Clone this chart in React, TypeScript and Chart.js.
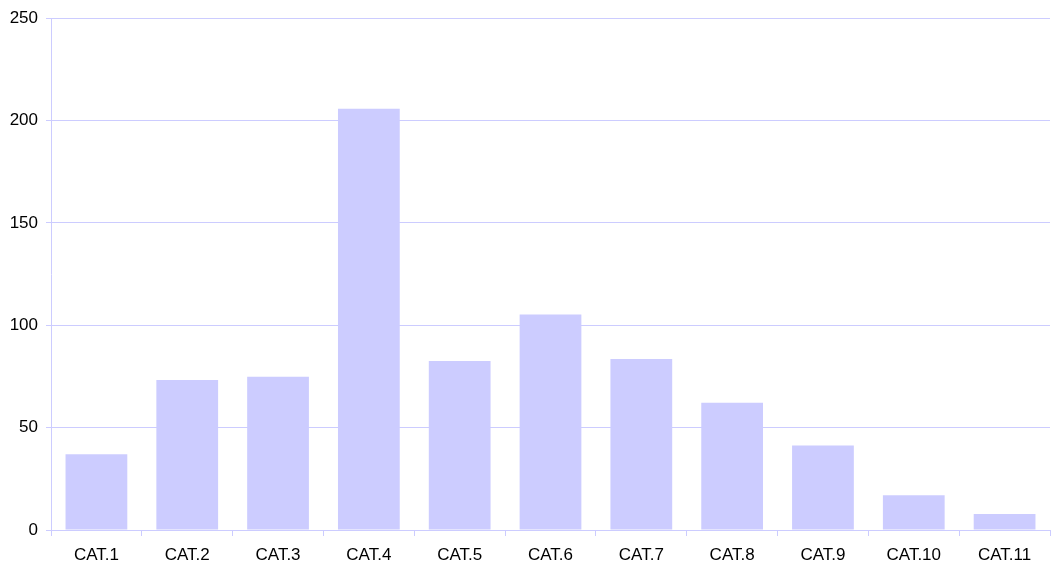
import React, { useEffect, useRef } from "react";
import { Chart, registerables } from "chart.js";

Chart.register(...registerables);

const categories = ["CAT.1", "CAT.2", "CAT.3", "CAT.4", "CAT.5", "CAT.6", "CAT.7", "CAT.8", "CAT.9", "CAT.10", "CAT.11"];
const values = [37, 73.3, 74.8, 205.8, 82.5, 105.3, 83.5, 62.1, 41.3, 17, 7.8];

const BAR = "#CCCCFF";
const GRID = "#CCCCFF";
const FONT = { family: "Liberation Sans, Arial", size: 17 };

export default function App() {
  const ref = useRef<HTMLCanvasElement>(null);
  useEffect(() => {
    document.body.style.margin = "0";
    const chart = new Chart(ref.current!, {
      type: "bar",
      data: {
        labels: categories,
        datasets: [{ data: values, backgroundColor: BAR, borderWidth: 0, barPercentage: 0.68, categoryPercentage: 1 }],
      },
      options: {
        animation: false,
        responsive: false,
        layout: { padding: { top: 15, right: 1, left: 0, bottom: 0 } },
        plugins: { legend: { display: false }, tooltip: { enabled: false } },
        scales: {
          x: {
            grid: { offset: true, drawOnChartArea: false, drawTicks: true, tickLength: 6, color: GRID },
            border: { color: GRID },
            ticks: { color: "#000", font: FONT, padding: 9, maxRotation: 0 },
            afterFit: (s: any) => { s.height = 39; },
          },
          y: {
            min: 0,
            max: 250,
            grid: { color: GRID, tickLength: 5 },
            border: { color: GRID },
            ticks: { stepSize: 50, color: "#000", font: FONT, padding: 8 },
            afterFit: (s: any) => { s.width = 51; },
          },
        },
      },
    });
    return () => chart.destroy();
  }, []);
  return <canvas ref={ref} width={1051} height={569} style={{ display: "block" }} />;
}
